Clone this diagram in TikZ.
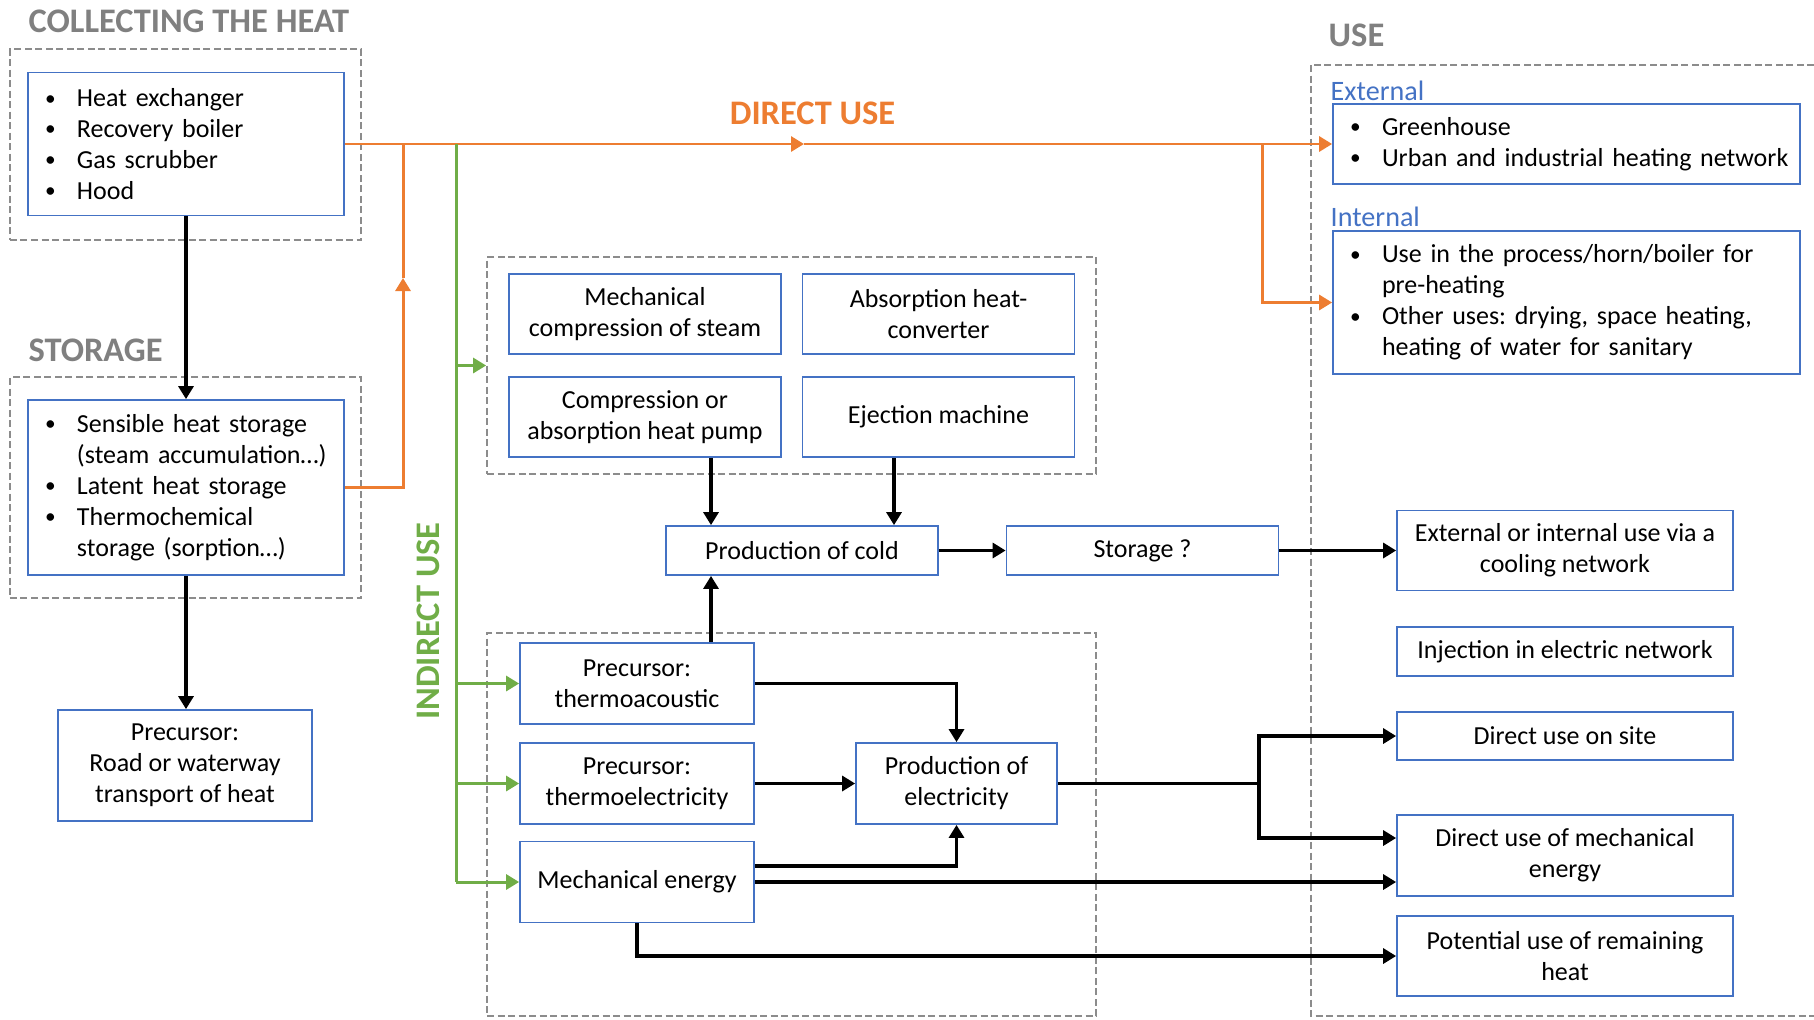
\documentclass[tikz,border=0pt]{standalone}
\usepackage{fontspec}
\setmainfont{Carlito}
\usepackage{graphicx}
\usepackage{tikz}
\usetikzlibrary{positioning,arrows.meta,calc}

\definecolor{boxblue}{HTML}{4472C4}
\definecolor{heatorange}{HTML}{ED7D31}
\definecolor{indgreen}{HTML}{70AD47}
\definecolor{framegray}{HTML}{8C8C8C}
\definecolor{titlegray}{HTML}{808080}

\newcommand{\bpt}[1]{\mbox{\makebox[2.9mm][l]{\hspace*{-0.3mm}\raisebox{0.12ex}{\scalebox{0.82}{\textbullet}}}#1}}
\newcommand{\bin}[1]{\mbox{\hspace*{2.9mm}#1}}

\begin{document}
\begin{tikzpicture}[
  every node/.style={font=\fontsize{7.4}{8.8}\selectfont\frenchspacing,align=center},
  box/.style   ={rectangle,draw=boxblue,line width=0.5pt,minimum width=27.2mm,
                 minimum height=8mm,inner sep=1pt},
  lbox/.style  ={rectangle,draw=boxblue,line width=0.5pt,align=left,
                 inner xsep=2mm,inner ysep=1pt},
  frame/.style ={rectangle,draw=framegray,line width=0.5pt,
                 dash pattern=on 0.7mm off 0.35mm},
  title/.style ={font=\fontsize{9.8}{11}\selectfont\bfseries,text=titlegray,inner sep=0pt},
  sub/.style   ={font=\fontsize{8}{9.6}\selectfont,text=boxblue,inner sep=0pt},
  arr/.style   ={-{Triangle[length=1.3mm,width=1.5mm]},line width=0.9pt,black},
  orline/.style={line width=0.85pt,heatorange},
  orarr/.style ={orline,-{Triangle[length=1.3mm,width=1.5mm]}},
  grline/.style={line width=0.85pt,indgreen},
  grarr/.style ={grline,-{Triangle[length=1.3mm,width=1.5mm]}},
]
\useasboundingbox (0,0) rectangle (18.14,-10.19);

% frames
\node[frame,minimum width=35.1mm,minimum height=19.1mm] at (1.855,-1.445) (collfr)  {};
\node[frame,minimum width=35.1mm,minimum height=22.1mm] at (1.855,-4.875) (storfr)  {};
\node[frame,minimum width=60.9mm,minimum height=21.7mm] at (7.915,-3.655) (upperfr) {};
\node[frame,minimum width=60.9mm,minimum height=38.3mm] at (7.915,-8.245) (lowerfr) {};
\draw[framegray,line width=0.5pt,dash pattern=on 0.7mm off 0.35mm]
  (13.11,-0.65) rectangle (18.40,-10.16);

% titles
\node[title,anchor=west] at (0.28,-0.21)  (tcollect) {COLLECTING THE HEAT};
\node[title,anchor=west] at (0.28,-3.50)  (tstorage) {STORAGE};
\node[title,anchor=west] at (13.28,-0.35) (tuse)     {USE};
\node[title,text=heatorange] at (8.125,-1.13) (tdirect) {DIRECT USE};
\node[title,text=indgreen,rotate=90] at (4.28,-6.21) (tindirect) {INDIRECT USE};
\node[sub,anchor=west] at (13.30,-0.91) (texternal) {External};
\node[sub,anchor=west] at (13.30,-2.17) (tinternal) {Internal};

% collecting and storage
\node[lbox,text width=27.6mm,minimum height=14.3mm] at (1.86,-1.44) (collect)
  {\bpt{Heat exchanger}\\\bpt{Recovery boiler}\\\bpt{Gas scrubber}\\\bpt{Hood}};
\node[lbox,text width=27.6mm,minimum height=17.5mm] at (1.86,-4.875) (storage)
  {\bpt{Sensible heat storage}\\\bin{(steam accumulation…)}\\\bpt{Latent heat storage}\\
   \bpt{Thermochemical}\\\bin{storage (sorption…)}};
\node[box,minimum width=25.4mm,minimum height=11.1mm] at (1.85,-7.655) (road)
  {Precursor:\\Road or waterway\\transport of heat};

% use
\node[lbox,text width=42.7mm,minimum height=8mm] at (15.665,-1.44) (external)
  {\bpt{Greenhouse}\\\bpt{Urban and industrial heating network}};
\node[lbox,text width=42.7mm,minimum height=14.3mm] at (15.665,-3.025) (internal)
  {\bpt{Use in the process/horn/boiler for}\\\bin{pre-heating}\\
   \bpt{Other uses: drying, space heating,}\\\bin{heating of water for sanitary}};

% indirect use, upper group
\node[box] at (6.45,-3.14)  (mcs) {Mechanical\\compression of steam};
\node[box] at (9.385,-3.14) (ahc) {Absorption heat-\\converter};
\node[box] at (6.45,-4.17)  (chp) {Compression or\\absorption heat pump};
\node[box] at (9.385,-4.17) (ejm) {Ejection machine};
\node[box,minimum height=4.9mm] at (8.02,-5.505)   (cold) {Production of cold};
\node[box,minimum height=4.9mm] at (11.425,-5.505) (stq)  {Storage ?};

% indirect use, lower group
\node[box,minimum width=23.4mm,minimum height=8.1mm] at (6.37,-6.835) (tac)
  {Precursor:\\thermoacoustic};
\node[box,minimum width=23.4mm,minimum height=8.1mm] at (6.37,-7.835) (tel)
  {Precursor:\\thermoelectricity};
\node[box,minimum width=23.4mm,minimum height=8.1mm] at (6.37,-8.82)  (mech)
  {Mechanical energy};
\node[box,minimum width=20.1mm,minimum height=8.1mm] at (9.565,-7.835) (elec)
  {Production of\\electricity};

% final uses
\node[box,minimum width=33.6mm] at (15.65,-5.505) (cooling)
  {External or internal use via a\\cooling network};
\node[box,minimum width=33.6mm,minimum height=4.9mm] at (15.65,-6.515) (inject)
  {Injection in electric network};
\node[box,minimum width=33.6mm,minimum height=4.8mm] at (15.65,-7.36)  (onsite)
  {Direct use on site};
\node[box,minimum width=33.6mm,minimum height=8.1mm] at (15.65,-8.555) (mechuse)
  {Direct use of mechanical\\energy};
\node[box,minimum width=33.6mm] at (15.65,-9.56) (remain)
  {Potential use of remaining\\heat};

% helper points
\coordinate (dmid)  at (8.04,-1.44);
\coordinate (obr)   at (12.62,-1.44);
\coordinate (ojoin) at (4.03,-1.44);
\coordinate (oup)   at (4.03,-2.78);
\coordinate (gtop)  at (4.56,-1.44);
\coordinate (gbot)  at (4.56,-8.82);
\coordinate (ebr)   at (12.59,-7.835);
\coordinate (cin1)  at ($(cold.north)+(-0.91,0)$);
\coordinate (cin2)  at ($(cold.north)+(0.92,0)$);
\coordinate (cin3)  at ($(cold.south)+(-0.91,0)$);

% direct use
\draw[orarr] (collect.east) -- (dmid);
\draw[orarr] (dmid) -- (external.west);
\draw[orarr] (obr) |- (internal.west);
\draw[orarr] (storage.east) -| (oup);
\draw[orline] (oup) -- (ojoin);

% indirect use
\draw[grline] (gtop) -- (gbot);
\draw[grarr] (gtop |- upperfr.west) -- (upperfr.west);
\draw[grarr] (gtop |- tac.west) -- (tac.west);
\draw[grarr] (gtop |- tel.west) -- (tel.west);
\draw[grarr] (gbot) -- (mech.west);

\draw[arr] (collect.south) -- (collect.south |- storage.north);
\draw[arr] (storage.south) -- (storage.south |- road.north);

\draw[arr] (cin1 |- chp.south) -- (cin1);
\draw[arr] (cin2 |- ejm.south) -- (cin2);
\draw[arr] (cin3 |- tac.north) -- (cin3);
\draw[arr] (cold) -- (stq);
\draw[arr] (stq) -- (cooling);

\draw[arr] (tac.east) -| (elec.north);
\draw[arr] (tel) -- (elec);
\draw[arr] ([yshift=1.6mm]mech.east) -| (elec.south);
\draw[arr] (mech.east) -- (mech.east -| mechuse.west);
\draw[arr] (elec.east) -- (ebr) |- (onsite.west);
\draw[arr] (ebr) |- ([yshift=1.75mm]mechuse.west);
\draw[arr] (mech.south) |- (remain.west);
\end{tikzpicture}
\end{document}
